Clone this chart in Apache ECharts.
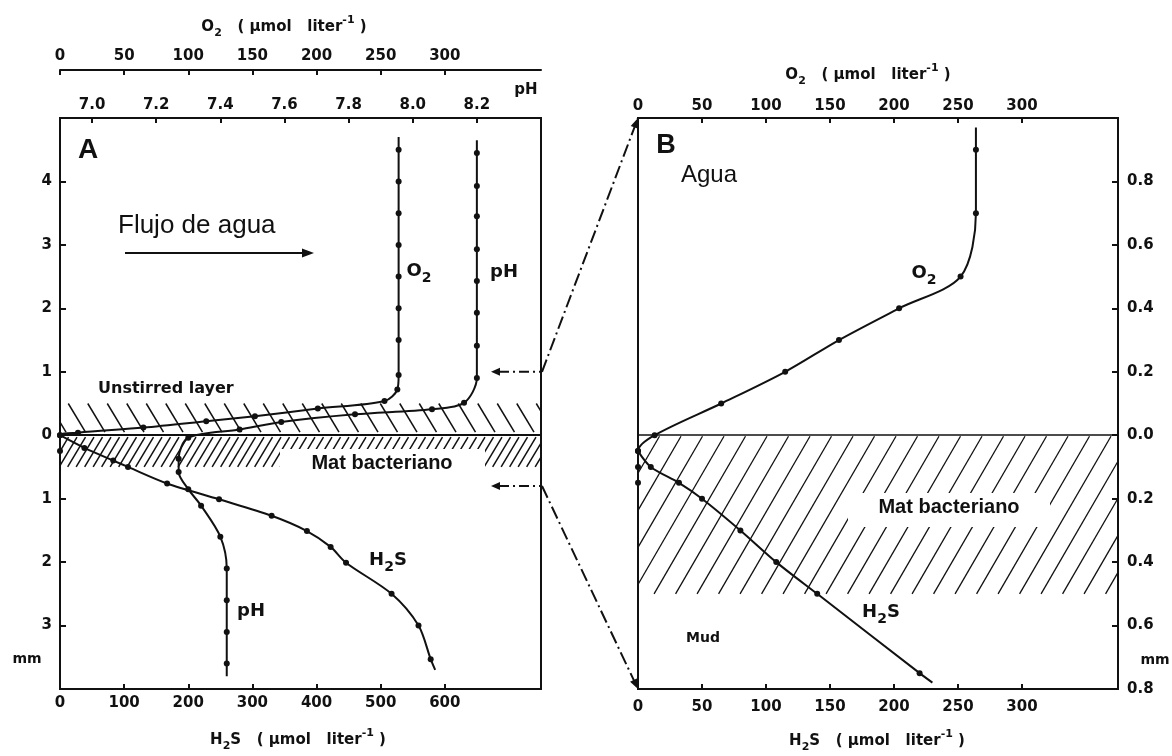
<!DOCTYPE html>
<html>
<head>
<meta charset="utf-8">
<script src="https://cdn.jsdelivr.net/npm/echarts@6/dist/echarts.min.js"></script>
<style>
  html, body { margin: 0; padding: 0; background: #fff; }
  #chart { width: 1172px; height: 756px; }
</style>
</head>
<body>
<div id="chart"></div>
<script>
// ---- Panel A: profiles through the mat (depth in mm, positive = water above surface) ----
const o2DepthA = [4.5, 4.0, 3.5, 3.0, 2.5, 2.0, 1.5, 0.95, 0.72, 0.54, 0.42, 0.30, 0.22, 0.12, 0.04, 0, -0.25];
const o2ValueA = [264, 264, 264, 264, 264, 264, 264, 264, 263, 253, 201, 152, 114, 65, 14, 0, 0];
const o2TraceStartA = [264, 4.7];

const phDepthA = [4.45, 3.93, 3.45, 2.93, 2.43, 1.93, 1.41, 0.9, 0.51, 0.41, 0.33, 0.21, 0.09, -0.04, -0.37, -0.58, -0.85, -1.11, -1.6, -2.1, -2.6, -3.1, -3.6];
const phValueA = [8.2, 8.2, 8.2, 8.2, 8.2, 8.2, 8.2, 8.2, 8.16, 8.06, 7.82, 7.59, 7.46, 7.30, 7.27, 7.27, 7.30, 7.34, 7.40, 7.42, 7.42, 7.42, 7.42];
const phTraceStartA = [8.2, 4.65];
const phTraceEndA = [7.42, -3.8];

const h2sDepthA = [0, -0.2, -0.4, -0.5, -0.76, -1.01, -1.27, -1.51, -1.76, -2.01, -2.5, -3.0, -3.53];
const h2sValueA = [0, 38, 83, 106, 167, 248, 330, 385, 422, 446, 517, 559, 578];
const h2sTraceEndA = [585, -3.7];

// ---- Panel B: the upper 1 mm / lower 0.8 mm around the surface ----
const o2DepthB = [0.9, 0.7, 0.5, 0.4, 0.3, 0.2, 0.1, 0.0, -0.05, -0.1, -0.15];
const o2ValueB = [264, 264, 252, 204, 157, 115, 65, 13, 0, 0, 0];
const o2TraceStartB = [264, 0.97];

const h2sDepthB = [-0.05, -0.1, -0.15, -0.2, -0.3, -0.4, -0.5, -0.75];
const h2sValueB = [0, 10, 32, 50, 80, 108, 140, 220];
const h2sTraceEndB = [230, -0.78];

// ---- Layers (depth ranges, mm) ----
const unstirredLayerA = [0, 0.5];
const matLayerA = [-0.5, 0];
const matLayerB = [-0.5, 0];

// ---- Axis ranges and ticks ----
const o2RangeA = [0, 375];
const phRangeA = [6.9, 8.4];
const h2sRangeA = [0, 750];
const depthRangeA = [-4, 5];
const o2RangeB = [0, 375];
const h2sRangeB = [0, 375];
const depthRangeB = [-0.8, 1.0];

const o2TicksA = [0, 50, 100, 150, 200, 250, 300];
const phTicksA = [7.0, 7.2, 7.4, 7.6, 7.8, 8.0, 8.2];
const h2sTicksA = [0, 100, 200, 300, 400, 500, 600];
const depthTicksA = [-3, -2, -1, 0, 1, 2, 3, 4];
const o2TicksB = [0, 50, 100, 150, 200, 250, 300];
const h2sTicksB = [0, 50, 100, 150, 200, 250, 300];
const depthTicksB = [-0.8, -0.6, -0.4, -0.2, 0, 0.2, 0.4, 0.6, 0.8];

const INK = '#111';
const SCAN_FONT = '"DejaVu Sans", sans-serif';
const labelFont = { color: INK, fontFamily: SCAN_FONT, fontWeight: 'bold', fontSize: 15 };

function points(values, depths) {
  return values.map((v, i) => [v, depths[i]]);
}
function traceEnd(pt) {
  return { value: pt, symbol: 'none' };
}

function xAxisDef(grid, position, range, ticks, extra) {
  return Object.assign({
    type: 'value', gridIndex: grid, position: position, min: range[0], max: range[1],
    axisLine: { show: false, onZero: false },
    axisTick: { show: true, inside: true, length: 5, customValues: ticks, lineStyle: { color: INK, width: 2 } },
    axisLabel: Object.assign({ show: true, customValues: ticks, margin: 6 }, labelFont),
    splitLine: { show: false }
  }, extra || {});
}

function yAxisDef(grid, position, range, ticks, fmt, margin) {
  return {
    type: 'value', gridIndex: grid, position: position, min: range[0], max: range[1],
    axisLine: { show: false, onZero: false },
    axisTick: { show: true, inside: true, length: 6, customValues: ticks, lineStyle: { color: INK, width: 2 } },
    axisLabel: Object.assign({ show: true, customValues: ticks, margin: margin, formatter: fmt }, labelFont),
    splitLine: { show: false }
  };
}

// Parallel hatch lines filling a depth band across the whole plot width
function hatch(opt) {
  return function (params, api) {
    const cs = params.coordSys;
    const ya = api.coord([0, api.value(0)])[1];
    const yb = api.coord([0, api.value(1)])[1];
    const T = Math.min(ya, yb) + (opt.insetTop || 0);
    const B = Math.max(ya, yb) - (opt.insetBottom || 0);
    const L = cs.x, R = cs.x + cs.width, H = B - T, run = opt.slant * H;
    const children = [];
    for (let x0 = L - run + (opt.phase || 0); x0 < R; x0 += opt.spacing) {
      const t0 = Math.max(0, (L - x0) / run), t1 = Math.min(1, (R - x0) / run);
      if (t1 <= t0) continue;
      let p0, p1;
      if (opt.dir === 'back') {
        p0 = [x0 + run * t0, T + H * t0]; p1 = [x0 + run * t1, T + H * t1];
      } else {
        p0 = [x0 + run * t0, B - H * t0]; p1 = [x0 + run * t1, B - H * t1];
      }
      children.push({ type: 'line', shape: { x1: p0[0], y1: p0[1], x2: p1[0], y2: p1[1] },
        style: { stroke: INK, lineWidth: opt.width } });
    }
    return { type: 'group', children: children };
  };
}

const lineStyleBase = { color: INK, width: 2 };
const profile = (xi, yi, data) => ({
  type: 'line', xAxisIndex: xi, yAxisIndex: yi, data: data, smooth: 0.3,
  symbol: 'circle', symbolSize: 6, showSymbol: true,
  lineStyle: lineStyleBase, itemStyle: { color: INK }, z: 5, silent: true
});
const surfaceLine = { silent: true, symbol: ['none', 'none'], label: { show: false },
  lineStyle: { color: INK, width: 2, type: 'solid' }, data: [{ yAxis: 0 }] };

const option = {
  animation: false,
  backgroundColor: '#fff',
  grid: [
    { left: 60, top: 118, width: 481, height: 571, show: true, borderWidth: 2, borderColor: INK, backgroundColor: 'transparent', outerBoundsMode: 'none' },
    { left: 638, top: 118, width: 480, height: 571, show: true, borderWidth: 2, borderColor: INK, backgroundColor: 'transparent', outerBoundsMode: 'none' }
  ],
  xAxis: [
    xAxisDef(0, 'top', o2RangeA, o2TicksA, { offset: 48, axisLine: { show: true, onZero: false, lineStyle: { color: INK, width: 2 } } }),
    xAxisDef(0, 'top', phRangeA, phTicksA, { axisLabel: Object.assign({ show: true, customValues: phTicksA, margin: 5, formatter: v => v.toFixed(1) }, labelFont) }),
    xAxisDef(0, 'bottom', h2sRangeA, h2sTicksA, { axisLabel: Object.assign({ show: true, customValues: h2sTicksA, margin: 7 }, labelFont) }),
    xAxisDef(1, 'top', o2RangeB, o2TicksB, { axisLabel: Object.assign({ show: true, customValues: o2TicksB, margin: 4 }, labelFont) }),
    xAxisDef(1, 'bottom', h2sRangeB, h2sTicksB, { axisLabel: Object.assign({ show: true, customValues: h2sTicksB, margin: 11 }, labelFont) })
  ],
  yAxis: [
    yAxisDef(0, 'left', depthRangeA, depthTicksA, v => String(Math.abs(Math.round(v))), 8),
    yAxisDef(1, 'right', depthRangeB, depthTicksB, v => Math.abs(v).toFixed(1), 9)
  ],
  series: [
    { type: 'custom', xAxisIndex: 2, yAxisIndex: 0, z: 1, silent: true, clip: false, data: [unstirredLayerA],
      renderItem: hatch({ dir: 'back', spacing: 19.5, slant: 0.6, width: 1.5, insetBottom: 3, phase: 6 }) },
    { type: 'custom', xAxisIndex: 2, yAxisIndex: 0, z: 1, silent: true, clip: false, data: [matLayerA],
      renderItem: hatch({ dir: 'fwd', spacing: 8.5, slant: 0.6, width: 1.5, insetTop: 2 }) },
    { type: 'custom', xAxisIndex: 4, yAxisIndex: 1, z: 1, silent: true, clip: false, data: [matLayerB],
      renderItem: hatch({ dir: 'fwd', spacing: 21.5, slant: 0.58, width: 1.3, insetTop: 1 }) },

    Object.assign(profile(0, 0, [traceEnd(o2TraceStartA)].concat(points(o2ValueA, o2DepthA))), { markLine: surfaceLine }),
    profile(1, 0, [traceEnd(phTraceStartA)].concat(points(phValueA, phDepthA), [traceEnd(phTraceEndA)])),
    profile(2, 0, points(h2sValueA, h2sDepthA).concat([traceEnd(h2sTraceEndA)])),

    Object.assign(profile(3, 1, [traceEnd(o2TraceStartB)].concat(points(o2ValueB, o2DepthB))), { markLine: Object.assign({}, surfaceLine, { lineStyle: { color: INK, width: 1.6, type: 'solid' } }) }),
    profile(4, 1, points(h2sValueB, h2sDepthB).concat([traceEnd(h2sTraceEndB)]))
  ]
};

const chart = echarts.init(document.getElementById('chart'), null, { renderer: 'canvas' });
chart.setOption(option);

// ---- Annotations ----
function txt(text, x, y, size, opts) {
  opts = opts || {};
  return { type: 'text', z: 50, silent: true, style: Object.assign({
    text: text, x: x, y: y, align: opts.align || 'center', verticalAlign: opts.vAlign || 'middle',
    fontFamily: opts.family || SCAN_FONT, fontWeight: opts.weight || 'bold', fontSize: size, fill: INK
  }, opts.style || {}) };
}
function rich(text, x, y, size) {
  const lh = Math.round(size * 1.6);
  return { type: 'text', z: 50, silent: true, style: {
    text: text, x: x, y: y, align: 'center', verticalAlign: 'middle', fill: INK,
    fontFamily: SCAN_FONT, fontWeight: 'bold', fontSize: size,
    rich: {
      t: { fontFamily: SCAN_FONT, fontWeight: 'bold', fontSize: size, lineHeight: lh, verticalAlign: 'middle', fill: INK },
      s: { fontFamily: SCAN_FONT, fontWeight: 'bold', fontSize: Math.round(size * 0.75), lineHeight: lh, verticalAlign: 'bottom', fill: INK },
      p: { fontFamily: SCAN_FONT, fontWeight: 'bold', fontSize: Math.round(size * 0.75), lineHeight: lh, verticalAlign: 'top', fill: INK }
    }
  } };
}
function whiteBox(x, y, w, h) {
  return { type: 'rect', z: 40, silent: true, shape: { x: x, y: y, width: w, height: h }, style: { fill: '#fff' } };
}
function head(tip, from, len, half) {
  const dx = tip[0] - from[0], dy = tip[1] - from[1];
  const d = Math.hypot(dx, dy), ux = dx / d, uy = dy / d;
  const bx = tip[0] - ux * len, by = tip[1] - uy * len;
  return { type: 'polygon', z: 45, silent: true,
    shape: { points: [tip, [bx - uy * half, by + ux * half], [bx + uy * half, by - ux * half]] },
    style: { fill: INK } };
}
function seg(a, b, w, dash) {
  return { type: 'line', z: 45, silent: true, shape: { x1: a[0], y1: a[1], x2: b[0], y2: b[1] },
    style: { stroke: INK, lineWidth: w, lineDash: dash || null } };
}

const titleO2 = '{t|O}{s|2}{t|   ( µmol   liter}{p|-1}{t| )}';
const titleH2S = '{t|H}{s|2}{t|S   ( µmol   liter}{p|-1}{t| )}';
const dashDot = [13, 4, 2, 4];

const graphics = [
  rich(titleO2, 284, 27, 15),
  txt('pH', 526, 90, 15),
  rich(titleH2S, 298, 740, 15),
  rich(titleO2, 868, 75, 15),
  rich(titleH2S, 877, 741, 15),

  txt('A', 88, 150, 28, { family: '"Liberation Sans", Arial, sans-serif', weight: 'bold' }),
  txt('Flujo de agua', 118, 226, 26, { align: 'left', family: '"Liberation Sans", Arial, sans-serif', weight: 'normal' }),
  seg([125, 253], [304, 253], 2),
  head([314, 253], [125, 253], 12, 4.5),
  txt('Unstirred layer', 98, 389, 16, { align: 'left' }),
  rich('{t|O}{s|2}', 419, 271, 18),
  txt('pH', 504, 272, 18),
  rich('{t|H}{s|2}{t|S}', 388, 560, 18),
  txt('pH', 251, 611, 18),
  whiteBox(280, 449, 205, 24),
  txt('Mat bacteriano', 382, 463, 20, { family: '"Liberation Sans", Arial, sans-serif' }),
  txt('mm', 27, 659, 14),

  txt('B', 666, 146, 27, { family: '"Liberation Sans", Arial, sans-serif', weight: 'bold' }),
  txt('Agua', 681, 175, 24, { align: 'left', family: '"Liberation Sans", Arial, sans-serif', weight: 'normal' }),
  rich('{t|O}{s|2}', 924, 273, 18),
  rich('{t|H}{s|2}{t|S}', 881, 612, 18),
  txt('Mud', 703, 638, 14),
  whiteBox(848, 493, 202, 34),
  txt('Mat bacteriano', 949, 507, 20, { family: '"Liberation Sans", Arial, sans-serif' }),
  txt('mm', 1155, 660, 14)
];

// Links from the depth window in A to the enlarged panel B
const px = (xi, yi, pt) => chart.convertToPixel({ xAxisIndex: xi, yAxisIndex: yi }, pt);
[depthRangeB[1], depthRangeB[0]].forEach(function (d) {
  const start = px(2, 0, [h2sRangeA[1], d]);
  const end = px(4, 1, [0, d]);
  const tip = [start[0] - 50, start[1]];
  graphics.push(head(tip, [start[0], start[1]], 9, 4));
  graphics.push(seg([tip[0] + 8, start[1]], [start[0], start[1]], 2, [10, 4, 2, 4]));
  graphics.push(seg([start[0] + 1, start[1]], end, 2, dashDot));
  graphics.push(head(end, [start[0], start[1]], 10, 4));
});

chart.setOption({ graphic: graphics });
</script>
</body>
</html>
